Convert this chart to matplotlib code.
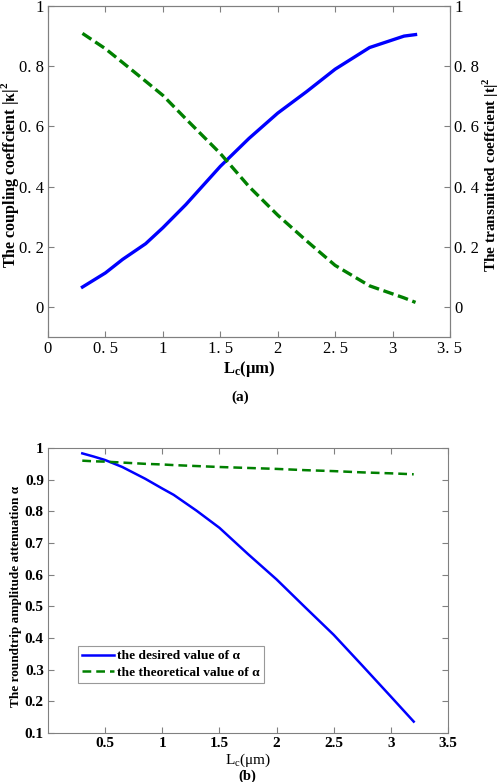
import matplotlib
matplotlib.use("Agg")
import matplotlib.pyplot as plt

# Panel (a)
lc_a = [0.3, 0.5, 0.65, 0.85, 1.0, 1.2, 1.5, 1.75, 2.0, 2.25, 2.5, 2.8, 3.1, 3.2]
kappa2 = [0.066, 0.113, 0.158, 0.210, 0.263, 0.340, 0.467, 0.560, 0.644, 0.715, 0.790, 0.862, 0.900, 0.905]
t2 = [0.909, 0.858, 0.812, 0.750, 0.703, 0.625, 0.510, 0.400, 0.305, 0.220, 0.138, 0.070, 0.030, 0.015]

# Panel (b)
lc_b = [0.3, 0.4, 0.5, 0.65, 0.85, 1.0, 1.1, 1.3, 1.5, 1.75, 2.0, 2.25, 2.5, 2.75, 3.0, 3.2]
alpha_desired = [0.983, 0.973, 0.962, 0.940, 0.903, 0.872, 0.852, 0.802, 0.748, 0.665, 0.585, 0.497, 0.410, 0.313, 0.215, 0.136]
alpha_theory = [0.960, 0.958, 0.957, 0.954, 0.950, 0.948, 0.946, 0.943, 0.940, 0.937, 0.934, 0.930, 0.927, 0.923, 0.920, 0.917]

xticks_a = [0, 0.5, 1, 1.5, 2, 2.5, 3, 3.5]
xticklabels_a = ["0", "0. 5", "1", "1. 5", "2", "2. 5", "3", "3. 5"]
yticks_a = [0, 0.2, 0.4, 0.6, 0.8, 1]
yticklabels_a = ["0", "0. 2", "0. 4", "0. 6", "0. 8", "1"]

xticks_b = [0.5, 1, 1.5, 2, 2.5, 3, 3.5]
xticklabels_b = ["0.5", "1", "1.5", "2", "2.5", "3", "3.5"]
yticks_b = [0.1, 0.2, 0.3, 0.4, 0.5, 0.6, 0.7, 0.8, 0.9, 1]
yticklabels_b = ["0.1", "0.2", "0.3", "0.4", "0.5", "0.6", "0.7", "0.8", "0.9", "1"]

plt.rcParams['font.family'] = ['Liberation Serif', 'DejaVu Serif']
plt.rcParams['mathtext.fontset'] = 'custom'
plt.rcParams['mathtext.rm'] = 'Liberation Serif'
plt.rcParams['mathtext.bf'] = 'Liberation Serif:bold'

fig = plt.figure(figsize=(5, 7.82), dpi=100)
W, H = 500, 782

def ax_rect(l, t, r, b):
    return [l / W, 1 - b / H, (r - l) / W, (b - t) / H]

spine_col = '#808080'

# ---------- panel (a) ----------
ax1 = fig.add_axes(ax_rect(48, 6, 450, 337))
ax1.plot(lc_a, kappa2, color='#0000ff', lw=2.4)
ax1.set_xlim(0, 3.5)
ax1.set_ylim(-0.1, 1)
ax1.set_xticks(xticks_a)
ax1.set_xticklabels(xticklabels_a, fontsize=12)
ax1.set_yticks(yticks_a)
ax1.set_yticklabels(yticklabels_a, fontsize=12)
ax1.tick_params(direction='in', length=4, color=spine_col, top=True, pad=3)
for s in ax1.spines.values():
    s.set_color(spine_col)
ax1.set_ylabel(r'The coupling coeffcient |κ|$^{\mathbf{2}}$', fontsize=11.5, fontweight='bold')
ax1.yaxis.set_label_coords((21 - 48) / 402, 0.49)
ax1.set_xlabel(r'$\mathbf{L_c}$(μm)', fontsize=12, fontweight='bold', labelpad=1)

ax2 = ax1.twinx()
ax2.plot(lc_a, t2, color='#008000', lw=2.4, ls=(0, (3.2, 1.4)))
ax2.set_ylim(-0.1, 1)
ax2.set_yticks(yticks_a)
ax2.set_yticklabels(yticklabels_a, fontsize=12)
ax2.tick_params(direction='in', length=4, color=spine_col, pad=3)
for s in ax2.spines.values():
    s.set_color(spine_col)
ax2.set_ylabel(r'The transmitted coeffcient |t|$^{\mathbf{2}}$', fontsize=11, fontweight='bold')
ax2.yaxis.set_label_coords((481 - 48) / 402, 0.49)

fig.text(240 / W, 1 - 397 / H, '(a)', ha='center', va='center', fontsize=11, fontweight='bold')

# ---------- panel (b) ----------
ax3 = fig.add_axes(ax_rect(48, 448, 448, 733))
ax3.plot(lc_b, alpha_desired, color='#0000ff', lw=1.8, label='the desired value of α')
ax3.plot(lc_b, alpha_theory, color='#008000', lw=1.8, ls=(0, (3.5, 2.0)), label='the theoretical value of α')
ax3.set_xlim(0, 3.5)
ax3.set_ylim(0.1, 1)
ax3.set_xticks(xticks_b)
ax3.set_xticklabels(xticklabels_b, fontsize=11, fontweight='bold')
ax3.set_yticks(yticks_b)
ax3.set_yticklabels(yticklabels_b, fontsize=11, fontweight='bold')
ax3.tick_params(direction='in', length=4, color=spine_col, top=True, right=True, pad=3)
for s in ax3.spines.values():
    s.set_color(spine_col)
ax3.set_ylabel('The roundtrip amplitude attenuation α', fontsize=9.5, fontweight='bold')
ax3.yaxis.set_label_coords((22 - 48) / 400, 0.48)
ax3.set_xlabel(r'$\mathrm{L_c}$(μm)', fontsize=11, labelpad=1)
leg = ax3.legend(loc='lower left', bbox_to_anchor=(30 / 400, (733 - 683) / 285),
                 prop={'size': 9.7, 'weight': 'bold'}, frameon=True, fancybox=False,
                 handlelength=2.4, handletextpad=0.2, borderpad=0.3, labelspacing=0.3,
                 borderaxespad=0)
leg.get_frame().set_edgecolor(spine_col)
leg.get_frame().set_linewidth(0.8)

fig.text(247 / W, 1 - 776 / H, '(b)', ha='center', va='center', fontsize=10.5, fontweight='bold')

fig.savefig('out.png', dpi=100)
